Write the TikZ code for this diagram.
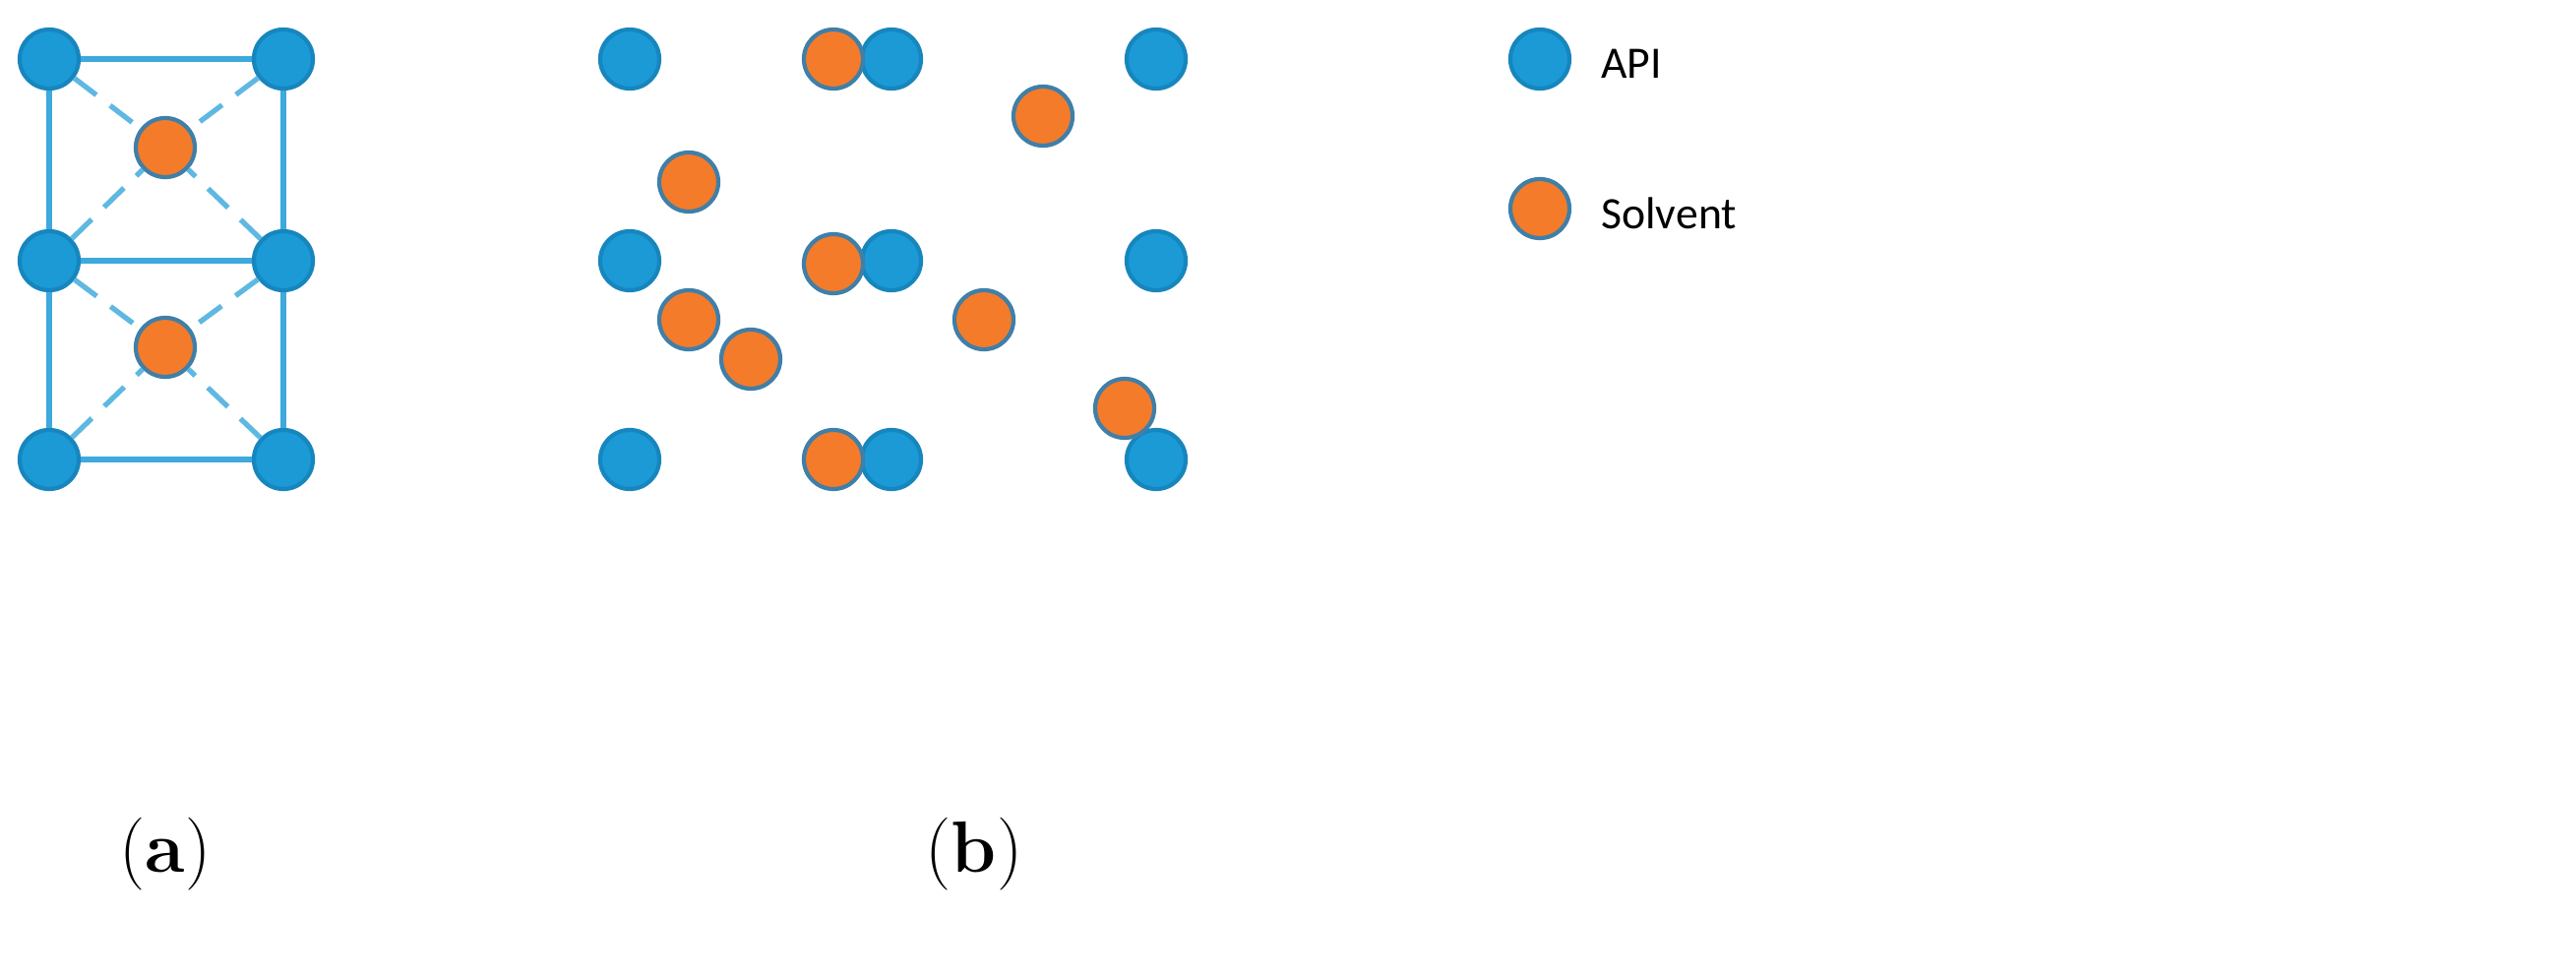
\documentclass[tikz,border=0pt]{standalone}
\usepackage{fontspec}
\newfontfamily\legfont{Carlito}
\begin{document}
\begin{tikzpicture}[x=0.01cm,y=-0.01cm,
  api/.style={circle,fill=apiblue,draw=apiedge,line width=1.2pt,minimum size=0.6cm,inner sep=0pt},
  sol/.style={circle,fill=solor,draw=soledge,line width=1.2pt,minimum size=0.6cm,inner sep=0pt},
  bond/.style={draw=apiblue!85,line width=1.5pt},
  hb/.style={draw=apiblue!70,line width=1.5pt,dash pattern=on 8pt off 5pt},
  leg/.style={font=\legfont\fontsize{13}{15}\selectfont,anchor=west},
  captext/.style={font=\fontsize{21}{24}\selectfont}]
\definecolor{apiblue}{HTML}{1B9AD6}
\definecolor{apiedge}{HTML}{1786BE}
\definecolor{solor}{HTML}{F47B2A}
\definecolor{soledge}{HTML}{3F7FA8}
\useasboundingbox (0,0) rectangle (2618,994);
% panel a
\node[api] (a1) at (50,60) {};
\node[api] (a2) at (288,60) {};
\node[api] (a3) at (50,265) {};
\node[api] (a4) at (288,265) {};
\node[api] (a5) at (50,467) {};
\node[api] (a6) at (288,467) {};
\node[sol] (o1) at (168,150) {};
\node[sol] (o2) at (168,353) {};
\path[bond] (a1)--(a2) (a1)--(a3) (a2)--(a4) (a3)--(a4) (a3)--(a5) (a4)--(a6) (a5)--(a6);
\path[hb] (a1)--(o1) (a2)--(o1) (a3)--(o1) (a4)--(o1) (a3)--(o2) (a4)--(o2) (a5)--(o2) (a6)--(o2);
\node[captext] (la) at (168,868) {(\textbf{a})};
% panel b
\node[api] (b1) at (640,60) {};
\node[api] (b2) at (906,60) {};
\node[api] (b3) at (1175,60) {};
\node[api] (b4) at (640,265) {};
\node[api] (b5) at (906,265) {};
\node[api] (b6) at (1175,265) {};
\node[api] (b7) at (640,467) {};
\node[api] (b8) at (906,467) {};
\node[api] (b9) at (1175,467) {};
\node[sol] (s1) at (847,60) {};
\node[sol] (s2) at (1060,118) {};
\node[sol] (s3) at (700,185) {};
\node[sol] (s4) at (847,268) {};
\node[sol] (s5) at (700,325) {};
\node[sol] (s6) at (763,365) {};
\node[sol] (s7) at (1000,325) {};
\node[sol] (s8) at (1143,415) {};
\node[sol] (s9) at (847,467) {};
\node[captext] (lb) at (990,868) {(\textbf{b})};
% legend
\node[api] (ga) at (1565,60) {};
\node[leg] (ta) at (1615,65) {API};
\node[sol] (gs) at (1565,212) {};
\node[leg] (ts) at (1615,217) {Solvent};
\end{tikzpicture}
\end{document}
